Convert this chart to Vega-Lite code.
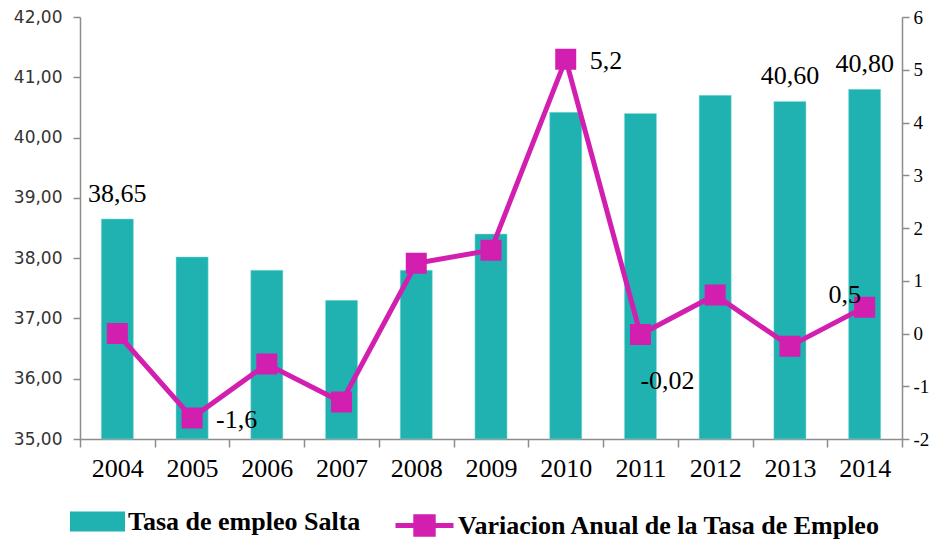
{
  "$schema": "https://vega.github.io/schema/vega-lite/v6.json",
  "autosize": "none",
  "width": 822,
  "height": 422,
  "padding": {"left": 80, "top": 17, "right": 39, "bottom": 101},
  "background": "white",
  "config": {
    "view": {"stroke": null},
    "locale": {"number": {"decimal": ",", "thousands": ".", "grouping": [3], "currency": ["$", ""], "minus": "-"}},
    "axis": {"grid": false, "domainColor": "#8c8c8c", "tickColor": "#8c8c8c", "domainWidth": 1.5, "tickWidth": 1.5, "title": null}
  },
  "data": {
    "values": [
      {"anio": "2004", "tasa": 38.65, "var": 0.0},
      {"anio": "2005", "tasa": 38.02, "var": -1.6},
      {"anio": "2006", "tasa": 37.8, "var": -0.58},
      {"anio": "2007", "tasa": 37.3, "var": -1.3},
      {"anio": "2008", "tasa": 37.8, "var": 1.33},
      {"anio": "2009", "tasa": 38.4, "var": 1.58},
      {"anio": "2010", "tasa": 40.42, "var": 5.2},
      {"anio": "2011", "tasa": 40.4, "var": -0.02},
      {"anio": "2012", "tasa": 40.7, "var": 0.73},
      {"anio": "2013", "tasa": 40.6, "var": -0.24},
      {"anio": "2014", "tasa": 40.8, "var": 0.5}
    ]
  },
  "encoding": {
    "x": {
      "field": "anio", "type": "ordinal",
      "scale": {"paddingInner": 0, "paddingOuter": 0},
      "axis": {"labelAngle": 0, "tickBand": "extent", "tickSize": 8, "labelPadding": 8, "labelFont": "Liberation Serif", "labelFontSize": 26, "labelColor": "#000"}
    }
  },
  "layer": [
    {
      "encoding": {
        "y": {
          "field": "tasa", "type": "quantitative",
          "scale": {"domain": [35, 42], "zero": false, "nice": false},
          "axis": {"orient": "left", "values": [35, 36, 37, 38, 39, 40, 41, 42], "format": ".2f", "tickSize": 7, "labelPadding": 11, "labelFont": "DejaVu Sans", "labelFontSize": 17, "labelColor": "#333"}
        }
      },
      "layer": [
        {
          "mark": {"type": "bar", "width": {"band": 0.43}, "stroke": "#8fe0dc", "strokeWidth": 0.5},
          "encoding": {
            "y2": {"datum": 35},
            "color": {
              "datum": "Tasa de empleo Salta",
              "scale": {"range": ["#20b2b0"]},
              "legend": {
                "orient": "none", "legendX": -10, "legendY": 477, "title": null,
                "symbolType": "M-1,-0.36H1V0.36H-1Z", "symbolSize": 3025, "symbolStrokeWidth": 0,
                "labelFont": "Liberation Serif", "labelFontWeight": "bold", "labelFontSize": 26, "labelColor": "#000", "labelOffset": 3, "padding": 0, "labelLimit": 600
              }
            }
          }
        },
        {
          "transform": [{"filter": "indexof(['2004','2013','2014'], datum.anio) >= 0"}],
          "mark": {"type": "text", "font": "Liberation Serif", "fontSize": 26, "color": "#000", "baseline": "bottom", "dy": -12},
          "encoding": {"text": {"field": "tasa", "type": "quantitative", "format": ".2f"}}
        }
      ]
    },
    {
      "encoding": {
        "y": {
          "field": "var", "type": "quantitative",
          "scale": {"domain": [-2, 6], "zero": false, "nice": false},
          "axis": {"orient": "right", "values": [-2, -1, 0, 1, 2, 3, 4, 5, 6], "format": "d", "tickSize": 7, "labelPadding": 4, "labelFont": "Liberation Serif", "labelFontSize": 19, "labelColor": "#000"}
        }
      },
      "layer": [
        {
          "mark": {"type": "line", "strokeWidth": 5, "point": {"shape": "square", "size": 361, "filled": true, "color": "#d21fb0", "opacity": 1}},
          "encoding": {
            "stroke": {
              "datum": "Variacion Anual de la Tasa de Empleo",
              "scale": {"range": ["#d21fb0"]},
              "legend": {
                "orient": "none", "legendX": 313, "legendY": 477, "title": null,
                "symbolType": "M-1,0H1M-0.3,-0.3H0.3V0.3H-0.3Z", "symbolSize": 3364, "symbolStrokeWidth": 5, "symbolFillColor": "#d21fb0",
                "labelFont": "Liberation Serif", "labelFontWeight": "bold", "labelFontSize": 26, "labelColor": "#000", "labelOffset": 2, "padding": 0, "labelLimit": 700,
                "encode": {"symbols": {"update": {"fill": {"value": "#d21fb0"}}}}
              }
            }
          }
        },
        {
          "transform": [{"filter": "datum.anio == '2005' || datum.anio == '2010'"}],
          "mark": {"type": "text", "font": "Liberation Serif", "fontSize": 26, "color": "#000", "align": "left", "dx": 24, "dy": 2},
          "encoding": {"text": {"field": "var", "type": "quantitative", "format": "~g"}}
        },
        {
          "transform": [{"filter": "datum.anio == '2011'"}],
          "mark": {"type": "text", "font": "Liberation Serif", "fontSize": 26, "color": "#000", "align": "center", "dx": 27, "dy": 46},
          "encoding": {"text": {"field": "var", "type": "quantitative", "format": "~g"}}
        },
        {
          "transform": [{"filter": "datum.anio == '2014'"}],
          "mark": {"type": "text", "font": "Liberation Serif", "fontSize": 26, "color": "#000", "align": "center", "dx": -20, "dy": -12},
          "encoding": {"text": {"field": "var", "type": "quantitative", "format": "~g"}}
        }
      ]
    }
  ],
  "resolve": {"scale": {"y": "independent"}}
}
